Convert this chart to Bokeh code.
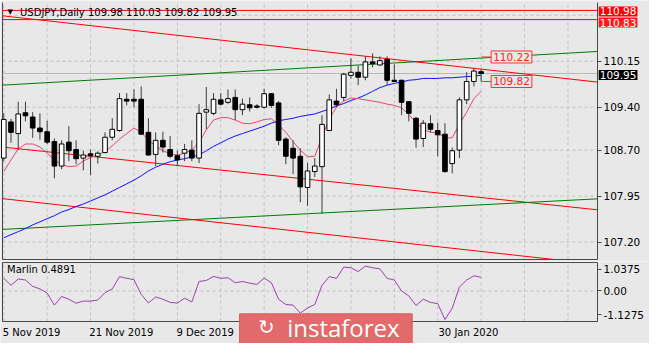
from bokeh.plotting import figure
from bokeh.models import (ColumnDataSource, Range1d, LinearAxis, FixedTicker, Label,
                          PrintfTickFormatter, CustomJSTickFormatter)
from bokeh.layouts import column
from bokeh.embed import file_html
from bokeh.resources import INLINE

# ---------------- data ----------------
opens = [108.57,109.16,108.97,109.31,109.24,109.06,109.00,108.84,108.44,108.83,
         108.71,108.57,108.64,108.60,108.66,108.91,109.02,109.53,109.53,109.53,
         108.99,108.63,108.86,108.71,108.61,108.65,108.70,108.57,109.32,109.30,
         109.52,109.48,109.56,109.36,109.44,109.42,109.40,109.62,109.47,108.88,
         108.73,108.60,108.09,108.35,108.43,109.02,109.50,109.56,109.92,109.97,
         109.89,110.14,110.09,110.18,109.84,109.84,109.49,109.22,108.89,109.13,
         109.02,108.96,108.48,108.70,109.52,109.82,109.98]
highs = [109.30,109.21,109.49,109.49,109.32,109.30,109.18,108.89,108.86,109.09,
         108.86,108.69,108.71,108.68,108.99,109.22,109.63,109.63,109.69,109.74,
         109.22,108.99,109.00,108.93,108.69,108.80,108.86,109.45,109.73,109.63,
         109.63,109.69,109.69,109.54,109.56,109.45,109.70,109.63,109.50,108.91,
         108.86,108.73,108.49,108.57,109.27,109.61,109.70,109.96,110.20,110.08,
         110.23,110.28,110.23,110.23,110.10,109.85,109.50,109.24,109.19,109.27,
         109.15,109.14,108.74,109.56,109.97,110.04,110.03]
lows = [108.52,108.82,108.70,109.17,108.90,108.87,108.80,108.24,108.39,108.52,
        108.47,108.37,108.29,108.48,108.65,108.86,109.00,109.43,109.40,108.95,
        108.61,108.44,108.66,108.57,108.44,108.52,108.52,108.49,109.04,109.27,
        109.43,109.45,109.19,109.27,109.33,109.38,109.38,109.39,108.78,108.47,
        108.31,107.85,107.79,108.26,107.66,109.01,109.40,109.50,109.87,109.76,
        109.84,110.05,110.08,109.76,109.82,109.27,109.17,108.74,108.75,108.99,
        108.60,108.33,108.32,108.57,109.45,109.74,109.82]
closes = [109.20,108.99,109.29,109.26,109.06,109.00,108.83,108.44,108.80,108.69,
          108.56,108.62,108.61,108.65,108.91,109.04,109.54,109.50,109.50,108.96,
          108.62,108.86,108.75,108.60,108.54,108.71,108.57,109.30,109.36,109.53,
          109.45,109.54,109.36,109.45,109.39,109.40,109.62,109.43,108.86,108.60,
          108.57,108.10,108.36,108.44,109.12,109.52,109.44,109.94,109.97,109.89,
          110.14,110.11,110.16,109.84,109.82,109.48,109.30,108.88,109.14,109.04,
          108.95,108.35,108.69,109.52,109.82,109.99,109.95]
slow_ma = [107.27,107.32,107.37,107.42,107.48,107.53,107.58,107.63,107.69,107.73,
           107.78,107.82,107.87,107.92,107.97,108.03,108.09,108.15,108.21,108.28,
           108.36,108.42,108.47,108.51,108.54,108.56,108.59,108.62,108.69,108.76,
           108.82,108.88,108.93,108.97,109.01,109.05,109.09,109.14,109.18,109.20,
           109.22,109.25,109.27,109.29,109.33,109.37,109.42,109.46,109.51,109.55,
           109.60,109.66,109.72,109.76,109.79,109.81,109.84,109.85,109.87,109.87,
           109.87,109.88,109.88,109.89,109.90,109.91,109.92]
fast_ma = [108.35,108.54,108.72,108.80,108.80,108.75,108.65,108.54,108.46,108.43,
           108.44,108.52,108.58,108.62,108.68,108.77,108.88,108.97,109.06,108.99,
           108.86,108.77,108.69,108.64,108.62,108.65,108.70,108.83,109.03,109.19,
           109.23,109.23,109.19,109.14,109.13,109.16,109.20,109.21,109.11,108.99,
           108.84,108.70,108.59,108.60,108.91,109.21,109.40,109.50,109.55,109.54,
           109.52,109.50,109.48,109.45,109.43,109.39,109.28,109.15,109.04,108.99,
           108.98,108.90,108.90,109.12,109.32,109.54,109.66]
marlin = [0.60,0.27,0.57,0.52,0.22,0.10,-0.10,-0.67,-0.26,-0.39,
          -0.58,-0.48,-0.48,-0.43,-0.08,0.10,0.68,0.60,0.54,-0.16,
          -0.57,-0.28,-0.39,-0.54,-0.57,-0.34,-0.52,0.45,0.50,0.69,
          0.60,0.63,0.39,0.45,0.37,0.31,0.61,0.39,-0.39,-0.64,
          -0.67,-1.05,-0.80,-0.64,0.27,0.68,0.60,1.13,1.10,0.92,
          1.18,1.10,1.05,0.60,0.52,0.00,-0.23,-0.69,-0.39,-0.54,
          -0.60,-1.35,-0.82,0.19,0.52,0.72,0.65]

# trend / channel lines: (bar index, price) anchors at the panel edges
line_x = [-0.175, 82.09]
red_upper = [110.892, 109.81]
red_middle = [108.75, 107.726]
red_lower = [107.908, 106.837]
green_upper = [109.76, 110.31]
green_lower = [107.406, 107.905]
h_levels = [110.98, 110.83]
marker_levels = [110.22, 109.82]
bid = 109.95

date_idx = [0, 12, 24, 60]
date_labels = ["5 Nov 2019", "21 Nov 2019", "9 Dec 2019", "30 Jan 2020"]
price_ticks = [110.15, 109.40, 108.70, 107.95, 107.20]
price_grid = [110.90, 110.15, 109.40, 108.70, 107.95, 107.20]
osc_ticks = [1.0375, 0.0, -1.1275]
header = "USDJPY,Daily  109.98 110.03 109.82 109.95"
osc_title = "Marlin 0.4891"
brand = "instaforex"

# ---------------- style / geometry ----------------
BG = "#e8e8e8"
FRAME = "#4a4a4a"
GRIDC = "#c0c0c0"
FONT = "DejaVu Sans"
W = 649
H_MAIN = 261
H_OSC = 82
BAR_PX = 7.233
X_L, X_R = line_x
P_TOP, P_BOT = 111.109, 106.915          # price panel limits
K = (P_TOP - P_BOT) / 257.0               # price per pixel
O_TOP, O_BOT = 1.35, -1.445               # oscillator panel limits
KO = (O_TOP - O_BOT) / 59.0

n = len(opens)
idx = list(range(n))
xr = Range1d(X_L - 2 / BAR_PX, X_R + 52 / BAR_PX)
vgrid = list(range(0, 84, 6))


def make_fig(h, y0, y1):
    return figure(width=W, height=h, x_range=xr, y_range=Range1d(y0, y1),
                  x_axis_type=None, y_axis_type=None, toolbar_location=None,
                  output_backend="svg", min_border_left=0, min_border_right=0,
                  min_border_top=0, min_border_bottom=0, background_fill_color=BG,
                  border_fill_color=BG, outline_line_color=None)


def panel_grid(fig, ylo, yhi, hlevels):
    m = len(vgrid)
    fig.segment(x0=vgrid, y0=[ylo] * m, x1=vgrid, y1=[yhi] * m, line_color=GRIDC,
                line_dash="3 3", line_width=1)
    k = len(hlevels)
    fig.segment(x0=[X_L] * k, y0=hlevels, x1=[X_R] * k, y1=hlevels, line_color=GRIDC,
                line_dash="3 3", line_width=1)


def price_axis(fmt, ticks, lo, hi):
    return LinearAxis(ticker=FixedTicker(ticks=ticks), formatter=fmt, fixed_location=X_R,
                      bounds=(lo, hi), major_tick_out=4, major_tick_in=0,
                      minor_tick_line_color=None, axis_line_color=FRAME,
                      major_tick_line_color=FRAME, major_label_text_font=FONT,
                      major_label_text_font_size="10.5px", major_label_text_color="#000000",
                      major_label_standoff=2)


# ---------------- main price panel ----------------
p = make_fig(H_MAIN, P_BOT - 2 * K, P_TOP + 2 * K)
panel_grid(p, P_BOT, P_TOP, price_grid)
p.add_layout(price_axis(PrintfTickFormatter(format="%.2f"), price_ticks, P_BOT, P_TOP), "right")

p.line([X_L, X_L], [P_BOT, P_TOP], line_color=FRAME, line_width=1)
p.line([X_L, X_R], [P_BOT, P_BOT], line_color=FRAME, line_width=1)

p.segment(x0=[X_L], y0=[bid], x1=[X_R], y1=[bid], line_color="#b8b8b8", line_width=1)
p.segment(x0=[X_L] * 2, y0=h_levels, x1=[X_R] * 2, y1=h_levels, line_color="#ff0000",
          line_width=1)


def draw_trend(ys, col):
    y_a, y_b = ys
    xa, xb = X_L, X_R
    if y_b < P_BOT:
        xb = X_L + (y_a - P_BOT) / (y_a - y_b) * (X_R - X_L)
        y_b = P_BOT
    p.line([xa, xb], [y_a, y_b], line_color=col, line_width=1)


for ys, col in [(red_upper, "#ff0000"), (red_middle, "#ff0000"), (red_lower, "#ff0000"),
                (green_upper, "#007a00"), (green_lower, "#007a00")]:
    draw_trend(ys, col)

p.line(idx, slow_ma, line_color="#1010ff", line_width=1)
p.line(idx, fast_ma, line_color="#e2486c", line_width=1)

body_top = [max(o, c) for o, c in zip(opens, closes)]
body_bot = [min(o, c) for o, c in zip(opens, closes)]
fills = ["#ffffff" if c > o else "#000000" for o, c in zip(opens, closes)]
src = ColumnDataSource(dict(x=idx, h=highs, l=lows, t=body_top, b=body_bot, f=fills))
p.segment(x0="x", y0="l", x1="x", y1="h", source=src, line_color="#3c3c3c", line_width=1)
p.vbar(x="x", width=0.64, top="t", bottom="b", source=src, fill_color="f",
       line_color="#000000", line_width=1)

for lv in marker_levels:
    p.line([n - 1, n - 1 + 10 / BAR_PX], [lv, lv], line_color="#ff3030", line_width=1)
    p.add_layout(Label(x=n - 1 + 10 / BAR_PX, y=lv, text=f"{lv:.2f}", text_font=FONT,
                       text_font_size="10.5px", text_color="#ff2020", text_align="left",
                       text_baseline="middle", background_fill_color=BG,
                       border_line_color="#ff3030", padding=2))

ax_x = X_R + 1.2 / BAR_PX
for lv, y_pos, bgc in [(h_levels[1], h_levels[1] - 3 * K, "#ff1a1a"),
                       (h_levels[0], h_levels[0] - 1 * K, "#ff0000")]:
    p.add_layout(Label(x=ax_x, y=y_pos, text=f"{lv:.2f}", text_font=FONT, text_font_size="10.5px",
                       text_color="#ffffff", text_align="left", text_baseline="middle",
                       background_fill_color=bgc, padding=1))
p.add_layout(Label(x=ax_x, y=bid - 1.5 * K, text=f"{bid:.2f}", text_font=FONT,
                   text_font_size="10.5px", text_color="#ffffff", text_align="left",
                   text_baseline="middle", background_fill_color="#000000", padding=1))

p.add_layout(Label(x=0.9, y=110.953, text="\u25BC", text_font=FONT, text_font_size="7px",
                   text_color="#000000", text_align="center", text_baseline="middle"))
p.add_layout(Label(x=2.25, y=110.953, text=header, text_font=FONT, text_font_size="10px",
                   text_color="#000000", text_align="left", text_baseline="middle"))

# ---------------- oscillator panel ----------------
q = make_fig(H_OSC, O_BOT - 22 * KO, O_TOP + 1 * KO)
panel_grid(q, O_BOT, O_TOP, [0.0])
q.add_layout(price_axis(CustomJSTickFormatter(code="return tick === 0 ? '0.00' : tick.toFixed(4);"),
                        osc_ticks, O_BOT, O_TOP), "right")

tick_pos = [i + (5.77 * len(s) / 2 - 1) / BAR_PX for i, s in zip(date_idx, date_labels)]
xax = LinearAxis(ticker=FixedTicker(ticks=tick_pos), fixed_location=O_BOT,
                 formatter=CustomJSTickFormatter(args=dict(pos=tick_pos, labs=date_labels),
                     code="for (let i = 0; i < pos.length; i++) { if (Math.abs(pos[i] - tick) < 1e-6) return labs[i]; } return '';"),
                 major_tick_out=0, major_tick_in=0, minor_tick_line_color=None,
                 axis_line_color=None, major_tick_line_color=None,
                 major_label_text_font=FONT, major_label_text_font_size="10px",
                 major_label_text_color="#000000", major_label_standoff=5)
q.add_layout(xax, "below")

q.line([X_L, X_L], [O_BOT, O_TOP], line_color=FRAME, line_width=1)
q.line([X_L, X_R], [O_BOT, O_BOT], line_color=FRAME, line_width=1)
q.line([X_L, X_R], [O_TOP, O_TOP], line_color=FRAME, line_width=1)

q.line(idx, marlin, line_color="#a23cb4", line_width=1)
q.add_layout(Label(x=0.45, y=1.0, text=osc_title, text_font=FONT, text_font_size="10px",
                   text_color="#000000", text_align="left", text_baseline="middle"))

# watermark
q.quad(left=[32.6], right=[56.47], top=[-1.082], bottom=[O_BOT - 30 * KO],
       fill_color="#e26a6a", line_color="#d85e5e")
q.add_layout(Label(x=36.3, y=-1.72, text="\u21BB", text_font=FONT, text_font_size="20px",
                   text_color="#ffffff", text_align="center", text_baseline="middle"))
q.add_layout(Label(x=46.96, y=-1.72, text=brand, text_font="Open Sans",
                   text_font_size="24px", text_color="#ffffff", text_align="center",
                   text_baseline="middle"))

layout = column(p, q, spacing=0)
open("out.html", "w").write(file_html(layout, INLINE))
